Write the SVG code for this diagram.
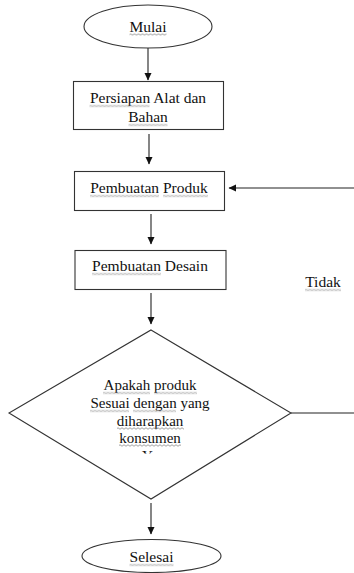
<svg xmlns="http://www.w3.org/2000/svg" width="354" height="573" viewBox="0 0 354 573">
<style>
.s{fill:#fff;stroke:#333;stroke-width:1.1}
.t{font-family:"Liberation Serif","Times New Roman",serif;font-size:15.5px;fill:#111;text-anchor:middle}
.d{font-size:15px}
.l{stroke:#222;stroke-width:1.1;fill:none}
.w{fill:url(#wave)}
</style>
<defs>
<marker id="ah" markerWidth="8" markerHeight="8" refX="7" refY="4" orient="auto" markerUnits="userSpaceOnUse">
<path d="M0,0.5 L7.5,4 L0,7.5 Z" fill="#111"/>
</marker>
<pattern id="wave" x="0" y="0" width="4" height="3" patternUnits="userSpaceOnUse">
<path d="M0 1.5 Q1 0 2 1.5 T4 1.5" fill="none" stroke="#8a8a8a" stroke-width="0.8"/>
</pattern>
<clipPath id="yclip"><rect x="0" y="440" width="354" height="13.5"/></clipPath>
</defs>
<g id="connectors">
<line class="l" x1="148" y1="48" x2="148" y2="80" marker-end="url(#ah)"/>
<line class="l" x1="149" y1="134" x2="149" y2="164" marker-end="url(#ah)"/>
<line class="l" x1="354" y1="188" x2="229" y2="188" marker-end="url(#ah)"/>
<line class="l" x1="151" y1="214" x2="151" y2="244" marker-end="url(#ah)"/>
<line class="l" x1="151" y1="293" x2="151" y2="324" marker-end="url(#ah)"/>
<line class="l" x1="291" y1="413" x2="354" y2="413"/>
<line class="l" x1="151" y1="503" x2="151" y2="534" marker-end="url(#ah)"/>
</g>
<g id="mulai">
<ellipse class="s" cx="148" cy="26.5" rx="64" ry="21.5"/>
<text class="t" x="148" y="32">Mulai</text>
<rect class="w" transform="translate(129.5,33)" width="37" height="3"/>
</g>
<g id="persiapan">
<rect class="s" x="73.5" y="81.5" width="150" height="48"/>
<text class="t" x="148" y="103">Persiapan Alat dan</text>
<text class="t" x="148" y="122">Bahan</text>
<rect class="w" transform="translate(89.5,104.5)" width="60" height="3"/>
<rect class="w" transform="translate(128.5,123.5)" width="39" height="3"/>
</g>
<g id="produk">
<rect class="s" x="74.5" y="171.5" width="150" height="39"/>
<text class="t" x="149" y="193">Pembuatan Produk</text>
<rect class="w" transform="translate(90,194.5)" width="69" height="3"/>
<rect class="w" transform="translate(163,194.5)" width="45" height="3"/>
</g>
<g id="desain">
<rect class="s" x="75" y="250.5" width="151" height="39"/>
<text class="t" x="150" y="271">Pembuatan Desain</text>
<rect class="w" transform="translate(92,272.5)" width="69" height="3"/>
</g>
<g id="tidak">
<text class="t" x="323" y="287">Tidak</text>
<rect class="w" transform="translate(305,288.5)" width="36" height="3"/>
</g>
<g id="keputusan">
<polygon class="s" points="151,330 291,413 151,499 9,413"/>
<text class="t d" x="150" y="390">Apakah produk</text>
<text class="t d" x="150" y="408">Sesuai dengan yang</text>
<text class="t d" x="150" y="425.5">diharapkan</text>
<text class="t d" x="150" y="442.5">konsumen</text>
<text class="t d" x="150" y="461" clip-path="url(#yclip)">Ya</text>
<rect class="w" transform="translate(103,391.5)" width="47" height="3"/>
<rect class="w" transform="translate(154,391.5)" width="43" height="3"/>
<rect class="w" transform="translate(90,409.5)" width="39" height="3"/>
<rect class="w" transform="translate(133,409.5)" width="43" height="3"/>
<rect class="w" transform="translate(117,427)" width="67" height="3"/>
<rect class="w" transform="translate(119,444)" width="62" height="3"/>
</g>
<g id="selesai">
<ellipse class="s" cx="151.5" cy="556" rx="69.5" ry="16.5"/>
<text class="t" x="151.5" y="562">Selesai</text>
<rect class="w" transform="translate(129.5,563.5)" width="44" height="3"/>
</g>
</svg>
